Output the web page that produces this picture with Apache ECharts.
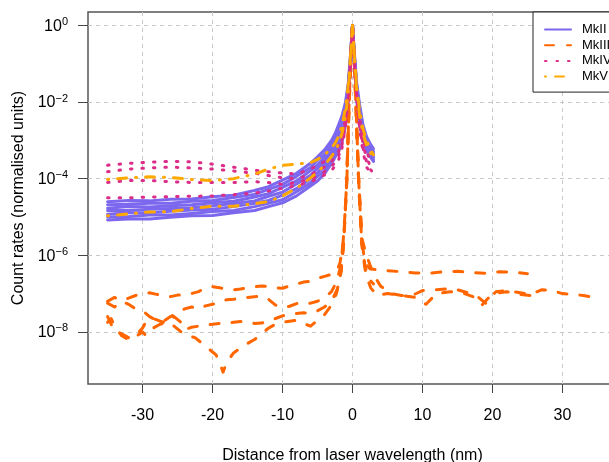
<!DOCTYPE html>
<html>
<head>
<meta charset="utf-8">
<script src="https://cdn.jsdelivr.net/npm/echarts@6/dist/echarts.min.js"></script>
<style>html,body{margin:0;padding:0;background:#fff}#c{width:609px;height:462px}</style>
</head>
<body>
<div id="c"></div>
<script>
// x positions (nm) shared by MkII, MkIV and MkV traces
const xGrid = [-35,-32,-29,-26,-23,-20,-17,-14,-12,-10,-8,-6,-5,-4,-3,-2.5,-2,-1.5,-1,-0.6,-0.3,0,0.3,0.6,1,1.5,2,2.5,3];

// values are given as log10(count rate)
const mkII_1 = [-4.60,-4.57,-4.58,-4.54,-4.53,-4.47,-4.43,-4.31,-4.21,-4.04,-3.86,-3.60,-3.43,-3.25,-3.00,-2.83,-2.60,-2.36,-2.00,-1.50,-0.80,0,-0.80,-1.50,-2.05,-2.60,-2.90,-3.08,-3.22];
const mkII_2 = [-4.68,-4.67,-4.64,-4.64,-4.59,-4.57,-4.49,-4.41,-4.28,-4.15,-3.94,-3.71,-3.52,-3.37,-3.10,-2.92,-2.72,-2.47,-2.10,-1.58,-0.85,0,-0.85,-1.58,-2.14,-2.67,-2.96,-3.13,-3.29];
const mkII_3 = [-4.77,-4.73,-4.74,-4.71,-4.68,-4.63,-4.59,-4.48,-4.39,-4.23,-4.06,-3.79,-3.64,-3.46,-3.21,-3.03,-2.83,-2.58,-2.20,-1.65,-0.90,0,-0.90,-1.65,-2.23,-2.73,-3.02,-3.20,-3.33];
const mkII_4 = [-4.83,-4.83,-4.80,-4.78,-4.76,-4.71,-4.65,-4.58,-4.46,-4.35,-4.14,-3.91,-3.73,-3.57,-3.30,-3.15,-2.95,-2.70,-2.30,-1.73,-0.95,0,-0.95,-1.73,-2.33,-2.80,-3.07,-3.25,-3.39];
const mkII_5 = [-4.93,-4.89,-4.89,-4.85,-4.82,-4.80,-4.73,-4.64,-4.57,-4.43,-4.26,-4.00,-3.85,-3.66,-3.41,-3.24,-3.07,-2.82,-2.40,-1.80,-1.00,0,-1.00,-1.80,-2.42,-2.87,-3.14,-3.31,-3.44];
const mkII_6 = [-5.00,-4.99,-4.95,-4.95,-4.91,-4.86,-4.83,-4.73,-4.64,-4.55,-4.34,-4.11,-3.94,-3.79,-3.49,-3.36,-3.18,-2.93,-2.50,-1.88,-1.05,0,-1.05,-1.88,-2.51,-2.93,-3.19,-3.36,-3.50];
const mkII_7 = [-5.08,-5.05,-5.05,-5.01,-4.97,-4.96,-4.89,-4.83,-4.73,-4.63,-4.45,-4.19,-4.06,-3.87,-3.61,-3.44,-3.30,-3.04,-2.60,-1.95,-1.10,0,-1.10,-1.95,-2.60,-3.00,-3.25,-3.42,-3.55];

// MkIII traces: [x (nm), log10(count rate)]
const mkIII_a = [[-35,-7.2],[-34,-7.1],[-33,-7.18],[-32,-7.12],[-31,-7.05],[-30,-7.0],[-29,-6.98],[-28,-7.02],[-27,-7.05],[-26,-7.08],[-25,-7.04],[-24,-7.03],[-23,-7.0],[-22,-6.95],[-21,-6.85],[-20,-6.82],[-19,-6.85],[-18,-6.88],[-17,-6.9],[-16,-6.88],[-15,-6.85],[-14,-6.82],[-13,-6.8],[-12,-6.82],[-11,-6.85],[-10,-6.86],[-9,-6.8],[-8,-6.75],[-7,-6.7],[-6,-6.68],[-5,-6.6],[-4,-6.55],[-3,-6.5],[-2.2,-6.4],[-1.8,-6.2],[-1.4,-5.8],[-1.1,-5.0],[-0.8,-4.0],[-0.5,-2.1],[-0.25,-0.9],[0,0],[0.25,-0.9],[0.5,-2.1],[0.85,-3.9],[1.3,-5.6],[1.8,-6.2],[2.5,-6.35],[3.5,-6.38],[5,-6.4],[7,-6.43],[9,-6.46],[11,-6.47],[13,-6.43],[15,-6.42],[17,-6.45],[19,-6.47],[21,-6.43],[23,-6.44],[25,-6.48]];
const mkIII_b = [[-35,-7.25],[-34,-7.35],[-33,-7.2],[-32,-7.28],[-31,-7.4],[-30,-7.45],[-29,-7.6],[-28,-7.7],[-27,-7.72],[-26,-7.6],[-25,-7.5],[-24,-7.4],[-23,-7.35],[-22,-7.4],[-21,-7.32],[-20,-7.28],[-19,-7.22],[-18,-7.16],[-17,-7.15],[-16,-7.12],[-15,-7.1],[-14,-7.08],[-13,-7.07],[-12,-7.15],[-11,-7.3],[-10,-7.36],[-9,-7.33],[-8,-7.26],[-7,-7.28],[-6,-7.25],[-5,-7.2],[-4,-7.1],[-3,-6.95],[-2.3,-6.7],[-1.7,-6.3],[-1.2,-5.4],[-0.8,-4.0],[-0.48,-2.0],[-0.25,-0.9],[0,-0.02],[0.25,-0.9],[0.5,-2.1],[0.9,-4.1],[1.4,-5.6],[2,-6.0],[3,-6.5],[4,-6.8],[5.5,-7.0],[7,-7.05],[8.5,-7.05],[10,-6.92],[12,-6.9],[13.5,-6.88],[15,-6.9],[16.5,-6.98],[18,-7.1],[19,-7.25],[20.5,-6.95],[22,-6.92],[24,-6.98],[25.5,-7.02],[27,-6.9],[28.5,-6.92],[30,-7.0],[31.5,-7.02],[33,-7.05],[35,-7.12]];
const mkIII_c = [[-35,-7.6],[-34.5,-7.8],[-34,-7.95],[-33,-8.05],[-32,-8.15],[-31,-8.1],[-30,-7.9],[-29.4,-7.7],[-28.5,-7.65],[-27.5,-7.72],[-26.5,-7.78],[-25.5,-7.6],[-24.5,-7.75],[-24,-7.94],[-23,-7.88],[-22,-7.85],[-21,-7.82],[-20,-7.8],[-19,-7.78],[-18,-7.77],[-17,-7.75],[-16,-7.73],[-15,-7.75],[-14,-7.78],[-13,-7.77],[-12,-7.72],[-11,-7.65],[-10,-7.58],[-9,-7.55],[-8,-7.52],[-7,-7.5],[-6,-7.52],[-5,-7.45],[-4,-7.35],[-3,-7.2],[-2.2,-6.9],[-1.6,-6.4],[-1.2,-5.5],[-0.85,-4.2],[-0.5,-2.2],[-0.25,-1.0],[0,-0.04],[0.25,-1.0],[0.5,-2.2],[0.85,-4.0],[1.3,-5.7],[1.9,-6.5],[2.6,-6.85],[3.5,-7.05],[5,-7.0],[7,-7.05],[9,-7.1],[10.5,-7.28],[12,-7.0],[14,-6.95],[16,-7.0],[17.5,-7.1],[18.5,-7.3],[20,-7.0],[22,-6.95],[24,-7.02],[25.5,-7.05]];
const mkIII_d = [[-35,-7.75],[-34.5,-7.65],[-34,-7.85],[-33,-8.1],[-32,-8.2],[-31,-8.12],[-30,-8.0],[-29.5,-8.1],[-28.5,-7.9],[-27.5,-7.8],[-26.5,-7.75],[-25.5,-7.85],[-24.5,-8.0],[-23.5,-8.1],[-22.5,-8.15],[-21.5,-8.3],[-20.5,-8.45],[-19.5,-8.6],[-19,-8.8],[-18.5,-9.05],[-18,-8.8],[-17,-8.55],[-16,-8.42],[-15,-8.3],[-14,-8.2],[-13,-8.05],[-12,-7.9],[-11,-7.8],[-10,-7.75],[-9,-7.72],[-8,-7.7],[-7,-7.78],[-6,-7.85],[-5,-7.7],[-4,-7.55],[-3,-7.3],[-2.3,-7.0],[-1.7,-6.5],[-1.3,-5.8],[-0.85,-4.1],[-0.5,-2.1],[-0.25,-0.95],[0,-0.01],[0.25,-0.95],[0.5,-2.05],[0.85,-3.9],[1.3,-5.6],[1.8,-6.3],[2.5,-6.65],[3,-6.75]];

const mkIV_1 = [-3.65,-3.60,-3.57,-3.55,-3.56,-3.62,-3.70,-3.78,-3.82,-3.85,-3.88,-3.75,-3.65,-3.55,-3.42,-3.30,-3.15,-2.90,-2.45,-1.75,-0.95,0,-0.95,-1.75,-2.40,-2.95,-3.30,-3.50,-3.62];
const mkIV_2 = [-3.82,-3.75,-3.72,-3.70,-3.72,-3.75,-3.80,-3.86,-3.92,-3.98,-4.00,-3.90,-3.80,-3.70,-3.55,-3.45,-3.30,-3.00,-2.50,-1.80,-1.00,-0.01,-1.00,-1.80,-2.50,-3.10,-3.45,-3.65,-3.75];
const mkIV_3 = [-4.10,-4.05,-4.05,-4.08,-4.10,-4.10,-4.10,-4.08,-4.10,-4.15,-4.10,-4.00,-3.92,-3.82,-3.68,-3.58,-3.42,-3.12,-2.60,-1.85,-1.05,-0.02,-1.05,-1.85,-2.60,-3.20,-3.55,-3.75,-3.85];
const mkIV_4 = [-4.50,-4.50,-4.48,-4.47,-4.46,-4.45,-4.42,-4.38,-4.32,-4.25,-4.18,-4.08,-4.00,-3.90,-3.78,-3.68,-3.52,-3.20,-2.65,-1.90,-1.08,-0.03,-1.08,-1.90,-2.70,-3.30,-3.70,-3.82,-3.90];

const mkV_1 = [-4.02,-3.98,-3.95,-3.97,-4.02,-4.05,-4.00,-3.88,-3.75,-3.65,-3.62,-3.58,-3.50,-3.38,-3.20,-3.08,-2.90,-2.62,-2.15,-1.55,-0.82,0,-0.85,-1.60,-2.20,-2.70,-3.00,-3.20,-3.38];
const mkV_2 = [-4.97,-4.92,-4.87,-4.86,-4.78,-4.72,-4.72,-4.65,-4.60,-4.45,-4.25,-3.98,-3.82,-3.65,-3.42,-3.28,-3.10,-2.82,-2.38,-1.72,-0.95,0,-0.95,-1.70,-2.35,-2.82,-3.12,-3.30,-3.45];

const groupNames = ['MkII','MkIII','MkIV','MkV'];
const yTickValues = [1e-8,1e-6,1e-4,1e-2,1];
const xTickValues = [-30,-20,-10,0,10,20,30];

const colors = {MkII:'#7B68EE', MkIII:'#FF6600', MkIV:'#DB2C88', MkV:'#FFA800'};
const dashes = {MkII:'solid', MkIII:[9,13], MkIV:[1.5,10], MkV:[1,9,9,9]};

function gridSeries(ys){
  return xGrid.map((x,i)=>[x, Math.pow(10, ys[i])]);
}
function pairSeries(pairs){
  return pairs.map(p=>[p[0], Math.pow(10, p[1])]);
}
function mk(name, data){
  return {type:'line', name:name, data:data, symbol:'none', showSymbol:false, silent:true, animation:false,
    clip:true,
    lineStyle:{color:colors[name], width:3, type:dashes[name], cap:'round', join:'round'},
    itemStyle:{color:colors[name]}};
}
const series = [];
[mkII_1,mkII_2,mkII_3,mkII_4,mkII_5,mkII_6,mkII_7].forEach(a=>series.push(mk('MkII', gridSeries(a))));
[mkIII_a,mkIII_b,mkIII_c,mkIII_d].forEach(a=>series.push(mk('MkIII', pairSeries(a))));
[mkIV_1,mkIV_2,mkIV_3,mkIV_4].forEach(a=>series.push(mk('MkIV', gridSeries(a))));
[mkV_1,mkV_2].forEach(a=>series.push(mk('MkV', gridSeries(a))));

const font = 'Liberation Sans, Arial, Helvetica, sans-serif';
const chart = echarts.init(document.getElementById('c'), null, {renderer:'canvas'});
chart.setOption({
  animation:false,
  backgroundColor:'#fff',
  textStyle:{fontFamily:font},
  grid:{left:88, top:12, width:529, height:372, show:true, borderColor:'#555', borderWidth:1.5,
    backgroundColor:'transparent', containLabel:false, outerBoundsMode:'none'},
  legend:{
    data:groupNames, left:533, top:12, orient:'vertical',
    backgroundColor:'#fff', borderColor:'#222', borderWidth:1, borderRadius:0,
    padding:[11,30,9,11], itemWidth:26, itemHeight:12, itemGap:2.7,
    itemStyle:{opacity:0},
    textStyle:{fontSize:13, color:'#000', fontFamily:font, padding:[0,0,0,6]},
    selectedMode:false
  },
  xAxis:{
    type:'value', min:-37.8, max:37.8,
    name:'Distance from laser wavelength (nm)', nameLocation:'middle', nameGap:64,
    nameTextStyle:{fontSize:16, color:'#000', fontFamily:font},
    axisLine:{show:false, onZero:false},
    axisTick:{show:true, length:9, customValues:xTickValues, lineStyle:{color:'#444', width:1}},
    axisLabel:{customValues:xTickValues, fontSize:16, color:'#000', margin:24, fontFamily:font},
    splitLine:{show:true, lineStyle:{color:'#c8c8c8', type:[4,4], width:1}}
  },
  yAxis:{
    type:'log', logBase:10, min:Math.pow(10,-9.36), max:Math.pow(10,0.35),
    name:'Count rates (normalised units)', nameLocation:'middle', nameGap:58, nameRotate:90,
    nameTextStyle:{fontSize:16, color:'#000', fontFamily:font},
    axisLine:{show:false, onZero:false},
    axisTick:{show:true, length:10, customValues:yTickValues, lineStyle:{color:'#444', width:1}},
    axisLabel:{customValues:yTickValues, margin:20, fontFamily:font,
      formatter:function(v){
        const e = Math.round(Math.log10(v));
        const s = e < 0 ? '\u2212' + (-e) : String(e);
        return '{b|10}{s|' + s + '}';
      },
      rich:{
        b:{fontSize:16, color:'#000', fontFamily:font, lineHeight:18, verticalAlign:'bottom', padding:[6,0,0,0]},
        s:{fontSize:11, color:'#000', fontFamily:font, lineHeight:11, verticalAlign:'top'}
      }
    },
    splitLine:{show:true, lineStyle:{color:'#c8c8c8', type:[4,4], width:1}}
  },
  series:series
});
</script>
</body>
</html>
